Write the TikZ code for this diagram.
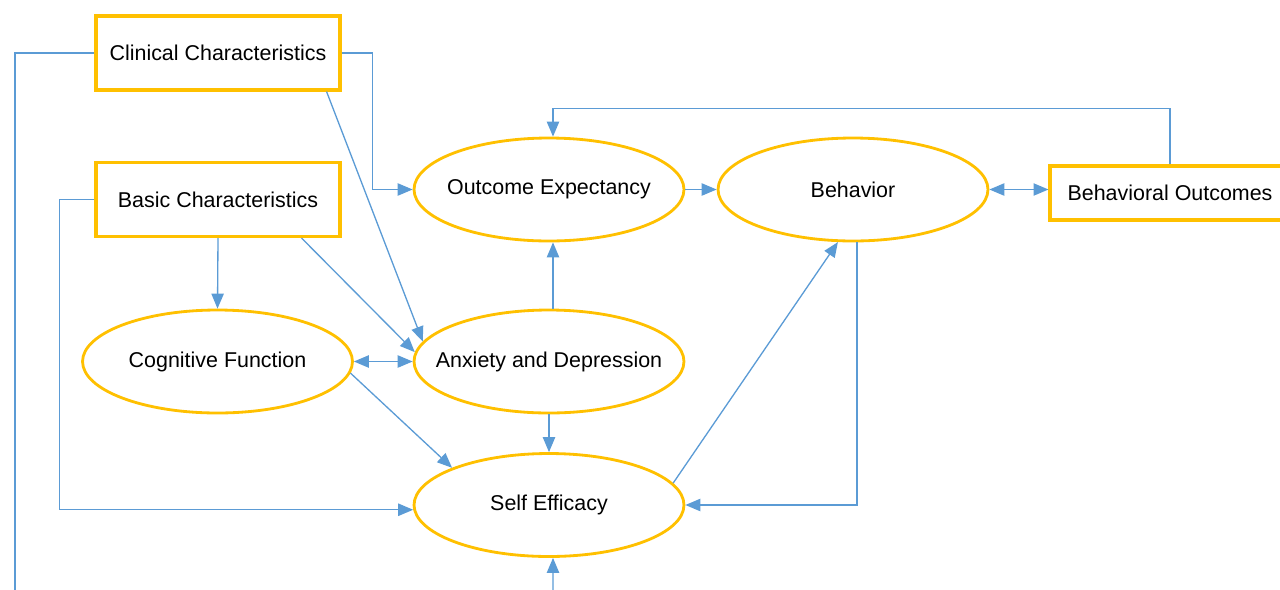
\documentclass[tikz,border=0pt]{standalone}
\usepackage{fontspec}
\setmainfont{Liberation Sans}
\usetikzlibrary{shapes.geometric,arrows.meta}
\definecolor{boxgold}{HTML}{FFC000}
\definecolor{linkblue}{HTML}{5B9BD5}
\begin{document}
\begin{tikzpicture}[
		x=0.02cm, y=-0.02cm,
		font=\fontsize{12.2}{14}\selectfont,
		factor/.style={draw=boxgold, line width=1.8pt, fill=white,
				minimum width=4.88cm, minimum height=1.48cm, inner sep=0pt},
		latent/.style={ellipse, draw=boxgold, line width=1.6pt, fill=white,
				minimum width=5.4cm, minimum height=2.06cm, inner sep=0pt,
				label=center:{#1}},
		tip/.style={Triangle[length=8.5pt,width=7pt]},
		link/.style={draw=linkblue, line width=0.75pt, -{Triangle[length=8.5pt,width=7pt]}},
		twoway/.style={draw=linkblue, line width=0.75pt,
				{Triangle[length=8.5pt,width=7pt]}-{Triangle[length=8.5pt,width=7pt]}},
		plain/.style={draw=linkblue, line width=0.75pt}
	]
	\useasboundingbox (0,0) rectangle (1280,589);
	% boxes
	\node[factor] (clin) at (218,53) {Clinical Characteristics};
	\node[factor] (basic) at (218,199.5) {Basic Characteristics};
	\node[factor, minimum width=4.8cm, minimum height=1.08cm] (bout) at (1170,193) {Behavioral Outcomes};
	% ellipses
	\node[latent=Outcome Expectancy] (oe) at (549,189.5) {};
	\node[latent=Behavior] (beh) at (853,189.5) {};
	\node[latent=Cognitive Function] (cog) at (217.5,361.5) {};
	\node[latent=Anxiety and Depression] (anx) at (549,361.5) {};
	\node[latent=Self Efficacy] (se) at (549,505) {};
	% free ends at the lower edge
	\coordinate (leftdown) at (15,600);
	\coordinate (botin) at (553,600);
	% connectors
	\draw[plain] (clin.west) -| (leftdown);
	\draw[link] (clin.east) -- ++(31,0) |- (oe.west);
	\draw[link] ([xshift=-0.3cm]clin.south east) -- (anx.171);
	\draw[link] (basic.west) -- ++(-35,0) |- (se.182);
	\draw[link] (basic.south) -- (cog.north);
	\draw[link] ([xshift=-0.8cm]basic.south east) -- (anx.176);
	\draw[twoway] (cog.east) -- (anx.west);
	\draw[link] (cog.-5) -- (se.159);
	\draw[link] (anx.south) -- (se.north);
	\draw[link] ([xshift=0.08cm]anx.north) -- ([xshift=0.08cm]oe.south);
	\draw[link] (oe.east) -- (beh.west);
	\draw[twoway] (beh.east) -- (beh.east -| bout.west);
	\draw[link] (bout.north) -- ++(0,-56) -| ([xshift=0.08cm]oe.north);
	\draw[link] (se.10) -- (beh.-106);
	\draw[link] ([xshift=0.08cm]beh.south) |- (se.east);
	\draw[link] (botin) -- ([xshift=0.08cm]se.south);
\end{tikzpicture}
\end{document}
